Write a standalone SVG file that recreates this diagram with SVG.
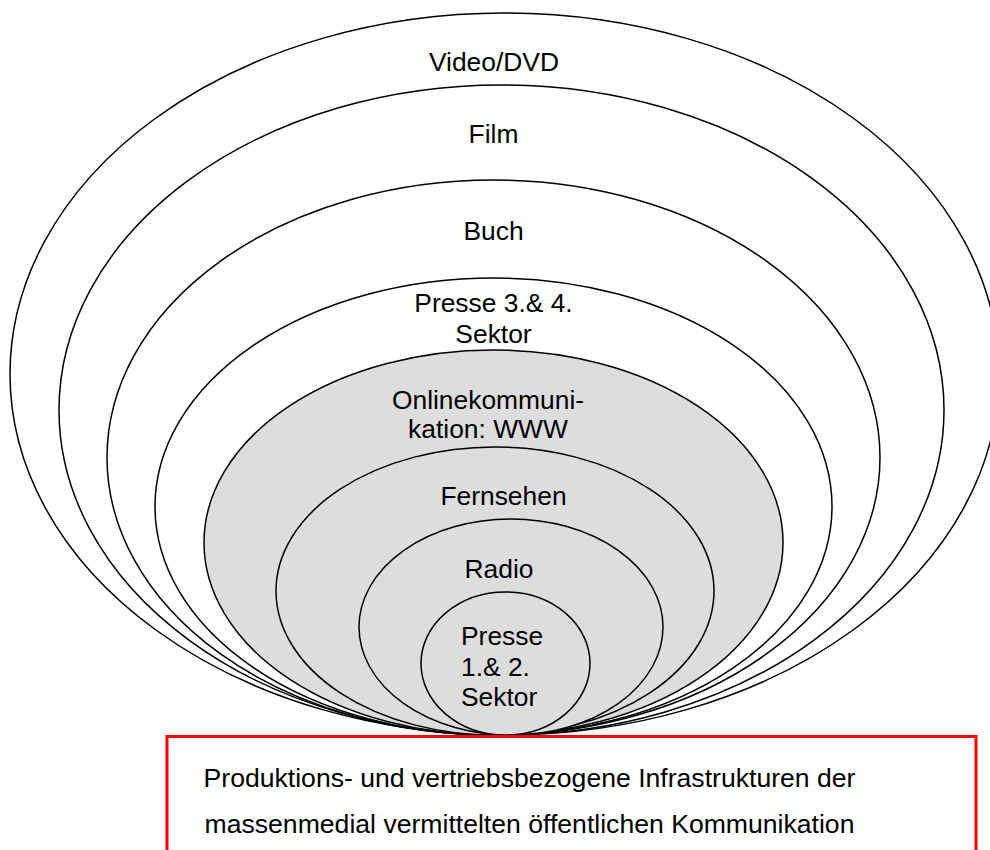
<svg xmlns="http://www.w3.org/2000/svg" width="990" height="850" viewBox="0 0 990 850">
<style>
.ring{stroke:#000;stroke-width:1.5;fill:#fff}
.g{fill:#dddddd}
.t{font-family:"Liberation Sans",Arial,sans-serif;font-size:26.4px;fill:#000;text-anchor:middle}
.b{font-size:26.6px}
.l{text-anchor:start}
</style>
<rect width="990" height="850" fill="#fff"/>
<g id="video-dvd"><ellipse class="ring" cx="504.5" cy="374" rx="494.5" ry="361"/><text class="t" x="494" y="71">Video/DVD</text></g>
<g id="film"><ellipse class="ring" cx="501.5" cy="410" rx="442.5" ry="325"/><text class="t" x="493.5" y="143">Film</text></g>
<g id="buch"><ellipse class="ring" cx="493.5" cy="457.5" rx="386.5" ry="277.5"/><text class="t" x="493.5" y="240">Buch</text></g>
<g id="presse34"><ellipse class="ring" cx="493.5" cy="506.5" rx="338.5" ry="228.5"/><text class="t" x="493.5" y="312">Presse 3.&amp; 4.</text><text class="t" x="493.5" y="342.5">Sektor</text></g>
<g id="online"><ellipse class="ring g" cx="493.5" cy="542.5" rx="289.5" ry="192.5"/><text class="t" x="488" y="408.5">Onlinekommuni-</text><text class="t" x="488" y="437.5">kation: WWW</text></g>
<g id="fernsehen"><ellipse class="ring g" cx="495" cy="591" rx="219" ry="144"/><text class="t" x="503.5" y="505">Fernsehen</text></g>
<g id="radio"><ellipse class="ring g" cx="511" cy="627" rx="152" ry="108"/><text class="t" x="499" y="577.5">Radio</text></g>
<g id="presse12"><ellipse class="ring g" cx="505.5" cy="663.5" rx="84.5" ry="71.5"/><text class="t l" x="461" y="645">Presse</text><text class="t l" x="461" y="676">1.&amp; 2.</text><text class="t l" x="461" y="706">Sektor</text></g>
<g id="infrastruktur"><rect x="167" y="736.5" width="809" height="130" fill="#fff" stroke="#ff0000" stroke-width="3"/><text class="t b" x="529.5" y="787">Produktions- und vertriebsbezogene Infrastrukturen der</text><text class="t b" x="529.5" y="833">massenmedial vermittelten öffentlichen Kommunikation</text></g>
<g id="connectors"/>
</svg>
